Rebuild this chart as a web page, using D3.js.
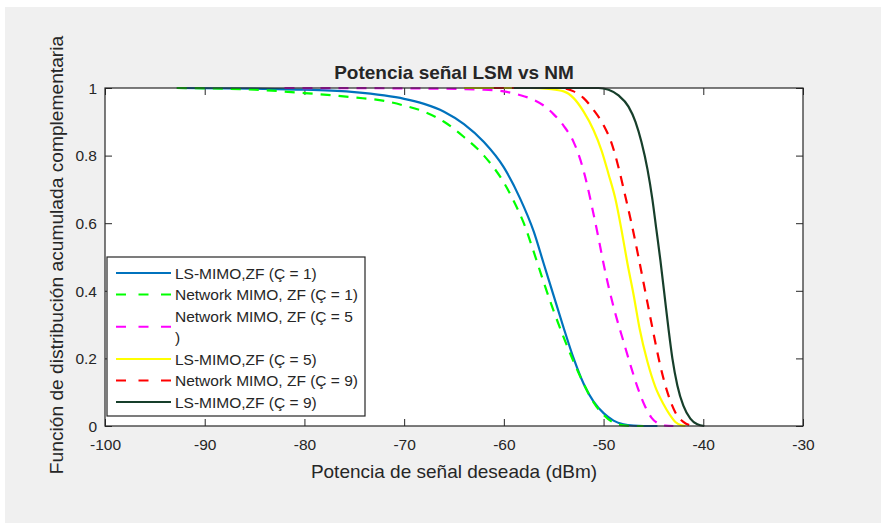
<!DOCTYPE html>
<html>
<head>
<meta charset="utf-8">
<script src="https://cdn.jsdelivr.net/npm/d3@7"></script>
<style>
  html, body { margin: 0; padding: 0; background: #ffffff; }
  svg { display: block; }
  text { font-family: "Liberation Sans", Arial, Helvetica, sans-serif; fill: #262626; }
</style>
</head>
<body>
<svg id="chart" width="881" height="524"></svg>
<script>
// ---------------- Data ----------------
const chartTitle = "Potencia señal LSM vs NM";
const xLabel = "Potencia de señal deseada (dBm)";
const yLabel = "Función de distribución acumulada complementaria";
const xTicks = [-100, -90, -80, -70, -60, -50, -40, -30];
const yTicks = [0, 0.2, 0.4, 0.6, 0.8, 1];
const seriesNames = [
  ["LS-MIMO,ZF (Ç = 1)"],
  ["Network MIMO, ZF (Ç = 1)"],
  ["Network MIMO, ZF (Ç = 5", ")"],
  ["LS-MIMO,ZF (Ç = 5)"],
  ["Network MIMO, ZF (Ç = 9)"],
  ["LS-MIMO,ZF (Ç = 9)"]
];
const seriesColors = ["#0072BD", "#00FF00", "#FF00FF", "#FFFF00", "#FF0000", "#173f2b"];
const seriesDashed = [false, true, true, false, true, false];

const lsC1 = [[-92.8,1],[-85,0.998],[-80,0.995],[-75,0.988],[-72,0.978],[-70,0.968],[-68,0.953],[-66,0.93],[-64,0.893],[-62,0.84],[-60,0.765],[-58.4,0.675],[-57,0.575],[-56,0.48],[-55,0.385],[-54,0.29],[-53,0.2],[-52,0.125],[-51,0.072],[-50,0.038],[-49,0.016],[-48,0.005],[-47,0.001],[-46,0],[-44.6,0]];
const nmC1 = [[-92.8,1],[-85,0.995],[-80,0.985],[-75,0.972],[-72,0.962],[-70,0.948],[-68,0.93],[-66,0.9],[-64,0.855],[-62,0.8],[-60,0.72],[-59,0.665],[-58,0.6],[-57,0.515],[-56,0.425],[-55,0.34],[-54,0.262],[-53,0.19],[-52,0.125],[-51,0.07],[-50,0.033],[-49,0.01],[-48,0.002],[-47,0],[-46,0]];
const nmC5 = [[-82,1],[-70,0.999],[-62,0.995],[-60,0.99],[-58.5,0.98],[-57,0.965],[-56,0.948],[-55,0.922],[-54,0.888],[-53,0.84],[-52.3,0.785],[-51.7,0.72],[-51.1,0.64],[-50.5,0.555],[-50,0.48],[-49.4,0.4],[-48.7,0.32],[-48,0.25],[-47.3,0.18],[-46.6,0.115],[-45.9,0.062],[-45.2,0.025],[-44.5,0.007],[-43.8,0.001],[-43,0]];
const lsC5 = [[-64,1],[-57.4,1],[-55.5,0.997],[-54,0.99],[-53,0.97],[-52,0.93],[-51,0.875],[-50.2,0.815],[-49.5,0.745],[-48.8,0.67],[-48.2,0.58],[-47.6,0.48],[-47,0.39],[-46.4,0.29],[-45.6,0.19],[-44.8,0.115],[-44,0.065],[-43.4,0.035],[-42.8,0.012],[-42.2,0.002],[-41.8,0]];
const nmC9 = [[-61,1],[-54.3,1],[-53,0.99],[-52,0.97],[-51,0.935],[-50,0.89],[-49.2,0.837],[-48.5,0.765],[-47.9,0.69],[-47.2,0.6],[-46.5,0.5],[-45.8,0.395],[-45.1,0.29],[-44.4,0.19],[-43.6,0.1],[-42.8,0.04],[-42,0.012],[-41.3,0.002],[-40.8,0]];
const lsC9 = [[-59,1],[-50.5,1],[-49.5,0.995],[-48.5,0.978],[-47.5,0.945],[-46.8,0.9],[-46.2,0.84],[-45.6,0.76],[-45.1,0.67],[-44.7,0.58],[-44.3,0.49],[-43.9,0.39],[-43.5,0.29],[-43.1,0.2],[-42.6,0.12],[-42,0.06],[-41.3,0.022],[-40.6,0.005],[-39.9,0]];
const seriesData = [lsC1, nmC1, nmC5, lsC5, nmC9, lsC9];

// ---------------- Layout ----------------
const svg = d3.select("#chart");
const W = 881, H = 524;
const plot = { left: 105, right: 803, top: 88, bottom: 426 };

svg.append("rect").attr("x", 5).attr("y", 7).attr("width", W - 5).attr("height", H - 8).attr("fill", "#f0f0f0");

const x = d3.scaleLinear().domain([-100, -30]).range([plot.left, plot.right]);
const y = d3.scaleLinear().domain([0, 1]).range([plot.bottom, plot.top]);

svg.append("rect").attr("x", plot.left).attr("y", plot.top)
  .attr("width", plot.right - plot.left).attr("height", plot.bottom - plot.top)
  .attr("fill", "#ffffff");

svg.append("clipPath").attr("id", "clip").append("rect")
  .attr("x", plot.left).attr("y", plot.top - 2)
  .attr("width", plot.right - plot.left).attr("height", plot.bottom - plot.top + 4);

// Axes (ticks inward)
const tickLen = 7;
const fmtY = d => d === 0 ? "0" : d === 1 ? "1" : d3.format(".1f")(d);
const fmtX = d => String(d);
const axB = svg.append("g").attr("transform", `translate(0,${plot.bottom})`)
  .call(d3.axisBottom(x).tickValues(xTicks).tickSizeInner(-tickLen).tickSizeOuter(0).tickPadding(13).tickFormat(fmtX));
const axT = svg.append("g").attr("transform", `translate(0,${plot.top})`)
  .call(d3.axisTop(x).tickValues(xTicks).tickSizeInner(-tickLen).tickSizeOuter(0).tickFormat(""));
const axL = svg.append("g").attr("transform", `translate(${plot.left},0)`)
  .call(d3.axisLeft(y).tickValues(yTicks).tickSizeInner(-tickLen).tickSizeOuter(0).tickPadding(8).tickFormat(fmtY));
const axR = svg.append("g").attr("transform", `translate(${plot.right},0)`)
  .call(d3.axisRight(y).tickValues(yTicks).tickSizeInner(-tickLen).tickSizeOuter(0).tickFormat(""));
[axB, axT, axL, axR].forEach(g => {
  g.select(".domain").remove();
  g.selectAll(".tick line").attr("stroke", "#262626").attr("stroke-width", 1);
  g.selectAll("text").attr("font-size", "15.5px").attr("fill", "#262626")
    .style("font-family", '"Liberation Sans", Arial, sans-serif');
});
axB.selectAll("text").attr("dy", "0.71em");
axL.selectAll("text").attr("dy", "0.34em");

// Lines
const line = d3.line().x(d => x(d[0])).y(d => y(d[1])).curve(d3.curveMonotoneX);
const gLines = svg.append("g").attr("clip-path", "url(#clip)");
seriesData.forEach((data, i) => {
  gLines.append("path").datum(data)
    .attr("d", line)
    .attr("fill", "none")
    .attr("stroke", seriesColors[i])
    .attr("stroke-width", 2.2)
    .attr("stroke-dasharray", seriesDashed[i] ? "10,8" : null)
    .attr("stroke-linejoin", "round");
});

// Box
svg.append("rect").attr("x", plot.left).attr("y", plot.top)
  .attr("width", plot.right - plot.left).attr("height", plot.bottom - plot.top)
  .attr("fill", "none").attr("stroke", "#262626").attr("stroke-width", 1.2);

// Title and labels
svg.append("text").attr("x", (plot.left + plot.right) / 2).attr("y", 79)
  .attr("text-anchor", "middle").attr("font-size", "19px").attr("font-weight", "bold")
  .attr("fill", "#000").text(chartTitle);
svg.append("text").attr("x", (plot.left + plot.right) / 2).attr("y", 478)
  .attr("text-anchor", "middle").attr("font-size", "19px").attr("fill", "#262626").text(xLabel);
svg.append("text").attr("transform", `translate(63,${255}) rotate(-90)`)
  .attr("text-anchor", "middle").attr("font-size", "19.2px").attr("fill", "#262626").text(yLabel);

// Legend
const leg = { x: 107, y: 257, w: 258, h: 159 };
svg.append("rect").attr("x", leg.x).attr("y", leg.y).attr("width", leg.w).attr("height", leg.h)
  .attr("fill", "#ffffff").attr("stroke", "#262626").attr("stroke-width", 1.2);
const rowPitch = 21.5;
let row = 0;
seriesNames.forEach((lines, i) => {
  const cy = 273 + rowPitch * (row + (lines.length - 1) / 2);
  svg.append("line").attr("x1", 116).attr("x2", 171).attr("y1", cy).attr("y2", cy)
    .attr("stroke", seriesColors[i]).attr("stroke-width", 2.2)
    .attr("stroke-dasharray", seriesDashed[i] ? "10,12.5" : null);
  const t = svg.append("text").attr("font-size", "15.5px").attr("fill", "#000");
  lines.forEach((s, k) => {
    t.append("tspan").attr("x", 175).attr("y", 273 + rowPitch * (row + k) + 5.5).text(s);
  });
  row += lines.length;
});
</script>
</body>
</html>
